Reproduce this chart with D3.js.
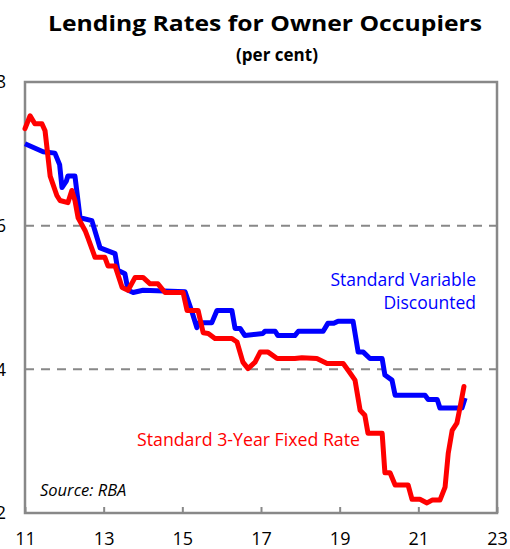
<!DOCTYPE html>
<meta charset="utf-8">
<script src="https://d3js.org/d3.v7.min.js"></script>
<style>
  body { margin: 0; background: #fff; }
  text { font-family: "Open Sans", Lato, sans-serif; }
</style>
<div id="my_dataviz"></div>
<script>

  // data (years since 2000, per cent)
  var variableDates = [11.0, 11.46, 11.76, 11.88, 11.94, 12.05, 12.09, 12.27, 12.40, 12.70, 12.91, 13.29, 13.36, 13.54, 13.62, 13.75, 14.0, 15.07, 15.25, 15.37, 15.42, 15.75, 15.88, 16.26, 16.34, 16.47, 16.59, 17.05, 17.10, 17.36, 17.43, 17.86, 17.95, 18.58, 18.70, 18.85, 18.96, 19.34, 19.47, 19.60, 19.77, 20.08, 20.15, 20.33, 20.41, 21.17, 21.25, 21.48, 21.55, 22.11, 22.19];
  var variableRates = [7.14, 7.03, 7.01, 6.85, 6.53, 6.62, 6.69, 6.69, 6.11, 6.07, 5.69, 5.61, 5.38, 5.33, 5.10, 5.07, 5.10, 5.08, 4.79, 4.58, 4.65, 4.65, 4.82, 4.82, 4.57, 4.57, 4.47, 4.50, 4.53, 4.53, 4.47, 4.47, 4.53, 4.53, 4.64, 4.64, 4.67, 4.67, 4.24, 4.24, 4.15, 4.15, 3.92, 3.85, 3.64, 3.64, 3.58, 3.58, 3.46, 3.46, 3.60];

  var fixedDates = [11.0, 11.13, 11.25, 11.43, 11.51, 11.64, 11.81, 11.89, 12.09, 12.19, 12.27, 12.35, 12.53, 12.60, 12.78, 13.03, 13.11, 13.29, 13.47, 13.62, 13.80, 14.0, 14.18, 14.38, 14.56, 15.02, 15.12, 15.40, 15.53, 15.66, 15.83, 16.26, 16.39, 16.54, 16.67, 16.85, 16.98, 17.18, 17.41, 17.86, 18.04, 18.42, 18.68, 19.09, 19.21, 19.39, 19.52, 19.64, 19.72, 20.08, 20.15, 20.28, 20.41, 20.74, 20.84, 21.04, 21.22, 21.35, 21.55, 21.68, 21.76, 21.86, 21.98, 22.06, 22.16];
  var fixedRates = [7.35, 7.53, 7.42, 7.42, 7.32, 6.69, 6.42, 6.35, 6.32, 6.49, 6.35, 6.11, 5.93, 5.83, 5.56, 5.56, 5.44, 5.44, 5.14, 5.10, 5.28, 5.28, 5.19, 5.19, 5.07, 5.07, 4.82, 4.82, 4.51, 4.50, 4.43, 4.43, 4.38, 4.10, 4.01, 4.10, 4.24, 4.24, 4.15, 4.15, 4.16, 4.15, 4.08, 4.08, 3.99, 3.85, 3.43, 3.36, 3.11, 3.11, 2.56, 2.56, 2.39, 2.39, 2.19, 2.19, 2.14, 2.18, 2.18, 2.36, 2.83, 3.15, 3.25, 3.47, 3.76];

  var xTicks = [11, 13, 15, 17, 19, 21, 23];
  var yTicks = [2, 4, 6, 8];
  var gridValues = [4, 6];

  var W = 510, H = 549;
  var margin = { top: 82, right: 13, bottom: 36, left: 25 },
    width = W - margin.left - margin.right,
    height = H - margin.top - margin.bottom;

  var svg = d3.select("#my_dataviz")
    .append("svg")
    .attr("width", W)
    .attr("height", H);

  var g = svg.append("g")
    .attr("transform", "translate(" + margin.left + "," + margin.top + ")");

  var x = d3.scaleLinear().domain([11, 23]).range([0, width]);
  var y = d3.scaleLinear().domain([2, 8]).range([height, 0]);

  // titles
  svg.append("text")
    .attr("x", 265).attr("y", 31)
    .attr("text-anchor", "middle")
    .attr("font-weight", "bold")
    .attr("font-size", 22)
    .attr("textLength", 434)
    .attr("lengthAdjust", "spacingAndGlyphs")
    .text("Lending Rates for Owner Occupiers");
  svg.append("text")
    .attr("x", 277).attr("y", 61)
    .attr("text-anchor", "middle")
    .attr("font-weight", "bold")
    .attr("font-size", 17)
    .text("(per cent)");

  // dashed gridlines
  g.selectAll(".grid")
    .data(gridValues)
    .enter().append("line")
    .attr("x1", 0).attr("x2", width)
    .attr("y1", function (d) { return y(d); })
    .attr("y2", function (d) { return y(d); })
    .attr("stroke", "#888")
    .attr("stroke-width", 2)
    .attr("stroke-dasharray", "9,7");

  // x ticks pointing inward
  var xAxis = g.append("g")
    .attr("transform", "translate(0," + height + ")")
    .call(d3.axisBottom(x).tickValues(xTicks).tickFormat(d3.format("d"))
      .tickSizeInner(-6).tickSizeOuter(0).tickPadding(19));
  xAxis.select(".domain").remove();
  xAxis.selectAll("line").attr("stroke", "#888").attr("stroke-width", 2);
  xAxis.selectAll("text").attr("font-size", 18).attr("fill", "#000")
    .attr("font-family", "'Open Sans', sans-serif");

  var yAxis = g.append("g")
    .call(d3.axisLeft(y).tickValues(yTicks).tickFormat(d3.format("d"))
      .tickSize(0).tickPadding(19));
  yAxis.select(".domain").remove();
  yAxis.selectAll("text").attr("font-size", 18).attr("fill", "#000")
    .attr("font-family", "'Open Sans', sans-serif");

  // frame
  g.append("rect")
    .attr("width", width).attr("height", height)
    .attr("fill", "none")
    .attr("stroke", "#888")
    .attr("stroke-width", 2.5);

  var line = d3.line()
    .x(function (d) { return x(d[0]); })
    .y(function (d) { return y(d[1]); });

  g.append("path")
    .datum(d3.zip(variableDates, variableRates))
    .attr("fill", "none")
    .attr("stroke", "#0000ff")
    .attr("stroke-width", 5)
    .attr("stroke-linejoin", "round")
    .attr("d", line);

  g.append("path")
    .datum(d3.zip(fixedDates, fixedRates))
    .attr("fill", "none")
    .attr("stroke", "#ff0000")
    .attr("stroke-width", 5)
    .attr("stroke-linejoin", "round")
    .attr("stroke-linecap", "round")
    .attr("d", line);

  // labels
  svg.append("text")
    .attr("x", 476).attr("y", 286)
    .attr("text-anchor", "end")
    .attr("font-size", 17.5).attr("fill", "#0000ff")
    .text("Standard Variable");
  svg.append("text")
    .attr("x", 476).attr("y", 309)
    .attr("text-anchor", "end")
    .attr("font-size", 17.5).attr("fill", "#0000ff")
    .text("Discounted");
  svg.append("text")
    .attr("x", 137).attr("y", 446)
    .attr("font-size", 17.5).attr("fill", "#ff0000")
    .attr("textLength", 223)
    .attr("lengthAdjust", "spacingAndGlyphs")
    .text("Standard 3-Year Fixed Rate");
  svg.append("text")
    .attr("x", 40).attr("y", 496)
    .attr("font-size", 16.5).attr("font-style", "italic")
    .text("Source: RBA");

</script>
